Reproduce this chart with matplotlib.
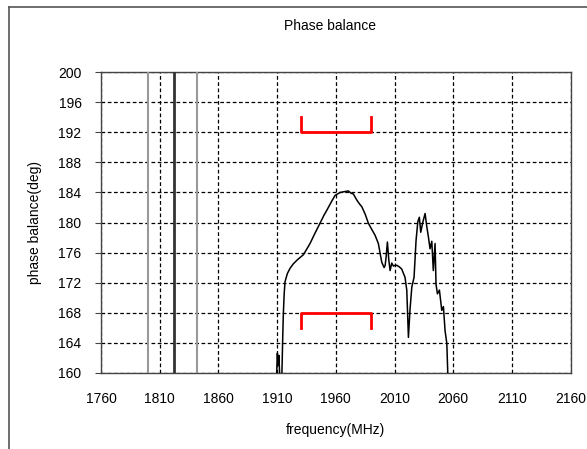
import matplotlib.pyplot as plt
from matplotlib.lines import Line2D

plt.rcParams['font.family'] = ['Liberation Sans', 'DejaVu Sans']

# curva medida de balance de fase
freq = [1909.5, 1910.2, 1910.8, 1911.5, 1912.2, 1913.0, 1914.0, 1914.8, 1915.3, 1916.0,
        1916.7, 1918.7, 1921.0, 1923.8, 1927.0, 1930.0, 1932.3, 1935.0, 1938.0, 1942.0,
        1946.5, 1950.0, 1952.2, 1956.0, 1959.3, 1963.6, 1967.0, 1970.6, 1973.0, 1974.9,
        1977.8, 1980.0, 1982.1, 1985.0, 1987.7, 1990.5, 1993.4, 1996.2, 1999.1, 2001.1,
        2002.0, 2002.8, 2003.9, 2005.1, 2006.2, 2007.6, 2009.0, 2010.5, 2011.9, 2014.0,
        2016.1, 2018.9, 2020.4, 2021.8, 2023.2, 2024.7, 2026.6, 2028.3, 2029.8, 2031.1,
        2032.3, 2034.0, 2036.0, 2037.4, 2038.8, 2040.2, 2041.7, 2043.0, 2044.5, 2045.3,
        2046.5, 2048.2, 2050.2, 2051.6, 2053.0, 2054.5, 2055.3, 2055.8]
phase = [159.5, 162.6, 161.0, 162.3, 159.5, 159.0, 159.5, 165.0, 167.9, 170.5,
         172.1, 173.2, 173.9, 174.5, 175.0, 175.4, 175.7, 176.4, 177.2, 178.5,
         179.9, 181.0, 181.6, 182.7, 183.6, 184.0, 184.1, 184.2, 183.9, 183.8,
         183.0, 182.5, 182.1, 181.1, 179.9, 179.1, 178.3, 177.2, 174.7, 174.0,
         174.3, 175.4, 177.4, 175.0, 173.6, 174.6, 174.2, 174.3, 174.3, 174.1,
         173.8, 172.7, 171.0, 164.7, 168.5, 171.4, 172.7, 177.6, 180.1, 180.7,
         178.7, 180.0, 181.2, 179.5, 178.1, 176.5, 177.5, 173.6, 177.2, 171.8,
         170.5, 171.0, 168.3, 168.8, 165.6, 163.9, 160.0, 158.0]

# especificación (corchetes rojos)
spec_f = [1930, 1990]
spec_hi = [194, 192]
spec_lo = [166, 168]

# líneas verticales de referencia
vlines_f = [1800, 1822, 1842]
vlines_c = ['#999999', '#333333', '#999999']
vlines_w = [1.5, 2.0, 1.5]

xticks = [1760, 1810, 1860, 1910, 1960, 2010, 2060, 2110, 2160]
yticks = list(range(160, 201, 4))

fig = plt.figure(figsize=(5.87, 4.49), dpi=100)
ax = fig.add_axes([101/587, 1 - 372.7/449, (570.7 - 101)/587, (372.7 - 72.3)/449])

for f, c, w in zip(vlines_f, vlines_c, vlines_w):
    ax.axvline(f, color=c, linewidth=w, zorder=3)

ax.plot(freq, phase, color='black', linewidth=1.1, zorder=4)

# corchetes
ax.plot([spec_f[0], spec_f[0], spec_f[1], spec_f[1]],
        [spec_hi[0], spec_hi[1], spec_hi[1], spec_hi[0]], color='red', linewidth=2, zorder=5)
ax.plot([spec_f[0], spec_f[0], spec_f[1], spec_f[1]],
        [spec_lo[0], spec_lo[1], spec_lo[1], spec_lo[0]], color='red', linewidth=2, zorder=5)

ax.set_xlim(1760, 2160)
ax.set_ylim(160, 200)
ax.set_xticks(xticks)
ax.set_yticks(yticks)
ax.grid(True, color='black', linestyle=(0, (3, 2)), linewidth=0.9)
ax.tick_params(axis='x', length=0, pad=14, labelsize=10)
ax.tick_params(axis='y', length=4, pad=10, labelsize=10, color='#444444')
for s in ax.spines.values():
    s.set_color('#444444')
    s.set_linewidth(1.0)

ax.set_xlabel('frequency(MHz)', fontsize=10, labelpad=12)
ax.set_ylabel('phase balance(deg)', fontsize=10, labelpad=12)
fig.text(330/587, 1 - 26/449, 'Phase balance', ha='center', va='center', fontsize=10)

# marco exterior del gráfico
fig.add_artist(Line2D([9/587, 9/587], [0, 1 - 7/449], color='#555555', linewidth=1.2))
fig.add_artist(Line2D([9/587, 1], [1 - 7/449, 1 - 7/449], color='#555555', linewidth=1.2))

fig.savefig('out.png', dpi=100)
